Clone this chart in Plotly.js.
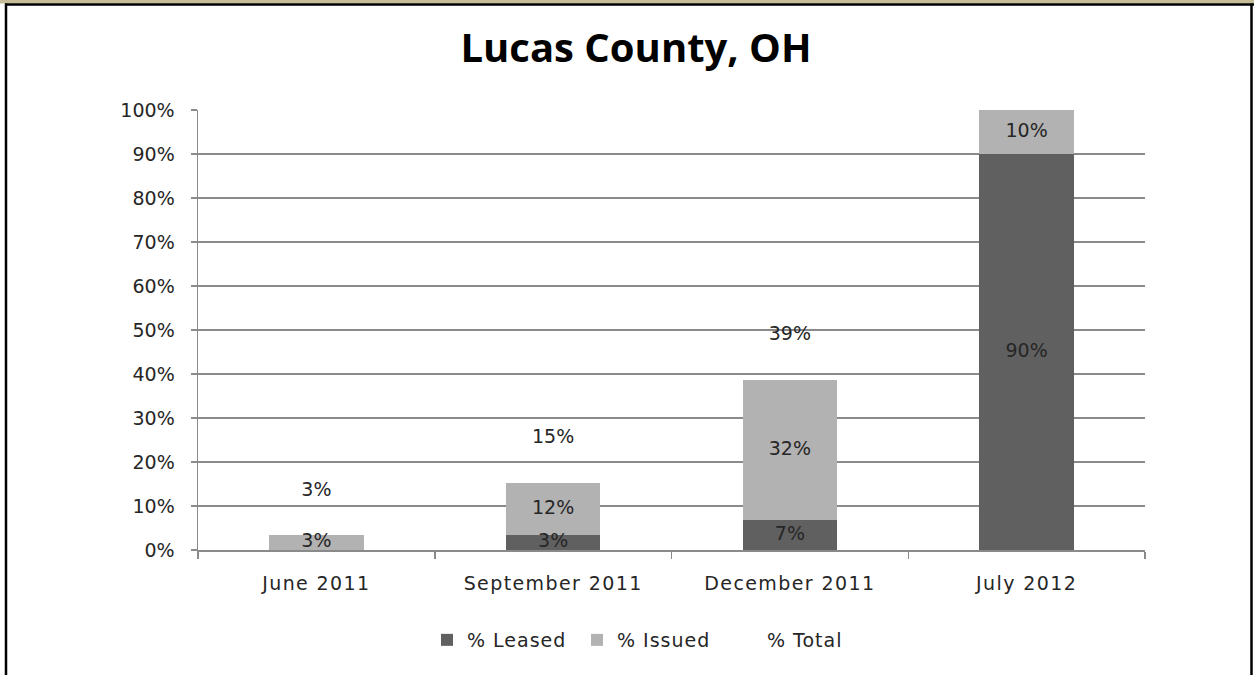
<!DOCTYPE html>
<html>
<head>
<meta charset="utf-8">
<script src="https://cdn.plot.ly/plotly-3.0.1.min.js"></script>
<style>
  html, body { margin: 0; padding: 0; background: #ffffff; }
  #chart { width: 1254px; height: 675px; }
  #chart .xtick text { letter-spacing: 1.4px; }
  #chart .legendtext { letter-spacing: 1px; }
</style>
</head>
<body>
<div id="chart"></div>
<script>
// ---- data ----
const categories = ["June 2011", "September 2011", "December 2011", "July 2012"];
const leased = [0, 3.4, 6.8, 90];
const issued = [3.4, 11.9, 31.9, 10];
const total = leased.map((v, i) => v + issued[i]);
const yTickVals = [0, 10, 20, 30, 40, 50, 60, 70, 80, 90, 100];
const yTickText = ["0%", "10%", "20%", "30%", "40%", "50%", "60%", "70%", "80%", "90%", "100%"];

// ---- styling ----
const W = 1254, H = 675;
const M = { l: 198, r: 109, t: 110, b: 125 };
const PW = W - M.l - M.r, PH = H - M.t - M.b;
const px2x = p => (p - M.l) / PW;
const px2y = p => (H - M.b - p) / PH;
const gridCol = "#8a8a8a";
const txtCol = "#262626";
const tickFont = { family: "DejaVu Sans, Verdana, sans-serif", size: 19, color: txtCol };
const labelFont = { family: "DejaVu Sans, Verdana, sans-serif", size: 19, color: txtCol };
const labelLift = 10;

const pct = v => (v > 0 ? Math.round(v) + "%" : "");

const traces = [
  {
    type: "bar", name: "% Leased", x: categories, y: leased,
    marker: { color: "#606060", line: { width: 0 } },
    hoverinfo: "skip"
  },
  {
    type: "bar", name: "% Issued", x: categories, y: issued,
    marker: { color: "#b2b2b2", line: { width: 0 } },
    hoverinfo: "skip"
  },
  {
    type: "scatter", mode: "lines", name: "% Total", x: categories, y: total,
    line: { color: "rgba(0,0,0,0)", width: 0 }, hoverinfo: "skip"
  },
  {
    type: "scatter", mode: "text", showlegend: false, x: categories,
    y: leased.map(v => v / 2), text: leased.map(pct),
    textposition: "middle center", textfont: labelFont, cliponaxis: false, hoverinfo: "skip"
  },
  {
    type: "scatter", mode: "text", showlegend: false, x: categories,
    y: issued.map((v, i) => leased[i] + v / 2), text: issued.map(pct),
    textposition: "middle center", textfont: labelFont, cliponaxis: false, hoverinfo: "skip"
  },
  {
    type: "scatter", mode: "text", showlegend: false, x: categories,
    y: total.map(v => v + labelLift), text: total.map(pct),
    textposition: "middle center", textfont: labelFont, cliponaxis: false, hoverinfo: "skip"
  }
];

const shapes = [
  { type: "rect", xref: "paper", yref: "paper", x0: px2x(0), x1: px2x(W), y0: px2y(0), y1: px2y(3.5),
    fillcolor: "#c4bd97", line: { width: 0 }, layer: "above" },
  { type: "line", xref: "paper", yref: "paper", x0: px2x(5), x1: px2x(W), y0: px2y(4.5), y1: px2y(4.5),
    line: { color: "#000000", width: 2.5 }, layer: "above" },
  { type: "line", xref: "paper", yref: "paper", x0: px2x(6), x1: px2x(6), y0: px2y(3.5), y1: px2y(H),
    line: { color: "#000000", width: 2.5 }, layer: "above" },
  { type: "line", xref: "paper", yref: "paper", x0: px2x(1251.5), x1: px2x(1251.5), y0: px2y(3.5), y1: px2y(H),
    line: { color: "#000000", width: 2.5 }, layer: "above" }
];

const layout = {
  width: W, height: H,
  margin: M,
  paper_bgcolor: "#ffffff", plot_bgcolor: "#ffffff",
  barmode: "stack", bargap: 0.6,
  showlegend: true,
  title: {
    text: "Lucas County, OH",
    font: { family: "Open Sans, sans-serif", size: 40, color: "#000000", weight: 700 },
    x: px2x(636), xref: "paper", xanchor: "center", y: 1 - 48 / H, yanchor: "middle", yref: "container"
  },
  xaxis: {
    type: "category", showgrid: false, showline: true, linecolor: gridCol, linewidth: 1.5,
    ticks: "outside", tickson: "boundaries", ticklen: 7, tickcolor: gridCol, tickwidth: 1.5,
    tickfont: tickFont, ticklabelstandoff: 16, fixedrange: true, zeroline: false
  },
  yaxis: {
    range: [0, 100], tickvals: yTickVals, ticktext: yTickText,
    showgrid: true, gridcolor: gridCol, gridwidth: 1.5,
    showline: true, linecolor: gridCol, linewidth: 1.5,
    ticks: "outside", ticklen: 6, tickcolor: gridCol, tickwidth: 1.5,
    tickfont: tickFont, ticklabelstandoff: 12, zeroline: false, fixedrange: true
  },
  legend: {
    orientation: "h", x: px2x(427), xanchor: "left", y: px2y(640), yanchor: "middle",
    font: tickFont, itemwidth: 30, entrywidth: 105, entrywidthmode: "pixels", traceorder: "normal"
  },
  shapes: shapes
};

Plotly.newPlot("chart", traces, layout, { staticPlot: true, displayModeBar: false });
</script>
</body>
</html>
